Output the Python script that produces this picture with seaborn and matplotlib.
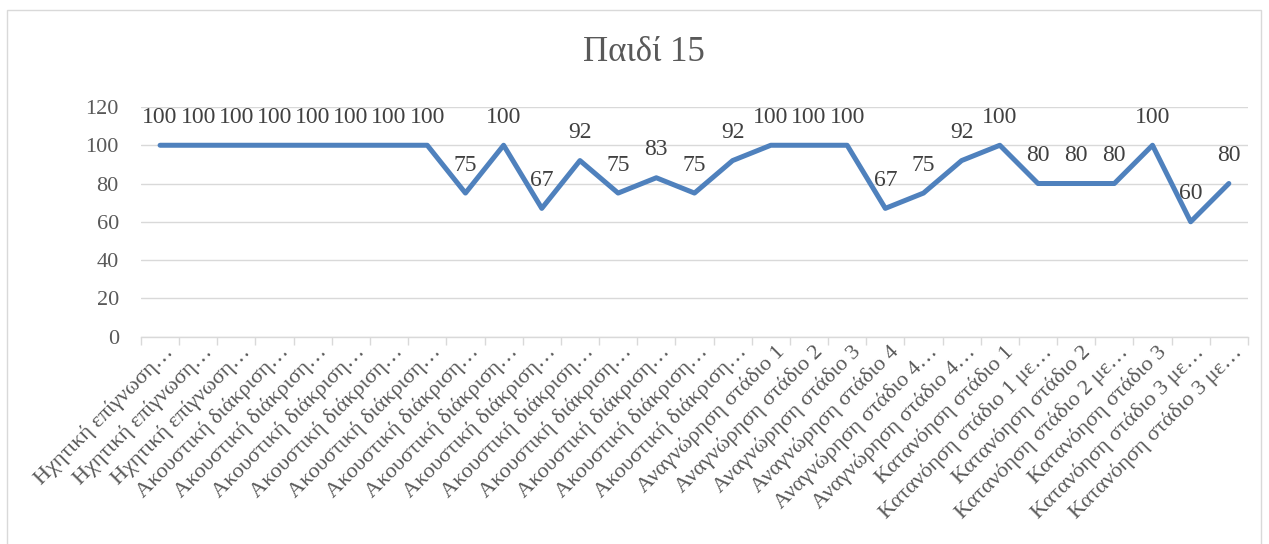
import numpy as np
import pandas as pd
import matplotlib
matplotlib.use("Agg")
import matplotlib.pyplot as plt
import matplotlib.transforms as mtransforms
from matplotlib.patches import Rectangle
import seaborn as sns

# category labels as Excel shows them (truncated)
categories = (
    ["Ηχητική επίγνωση…"] * 3
    + ["Ακουστική διάκριση…"] * 13
    + ["Αναγνώρηση στάδιο 1", "Αναγνώρηση στάδιο 2", "Αναγνώρηση στάδιο 3",
       "Αναγνώρηση στάδιο 4", "Αναγνώρηση στάδιο 4…", "Αναγνώρηση στάδιο 4…"]
    + ["Κατανόηση στάδιο 1", "Κατανόηση στάδιο 1 με…", "Κατανόηση στάδιο 2",
       "Κατανόηση στάδιο 2 με…", "Κατανόηση στάδιο 3", "Κατανόηση στάδιο 3 με…",
       "Κατανόηση στάδιο 3 με…"]
)
scores = [100, 100, 100, 100, 100, 100, 100, 100, 75, 100, 67, 92, 75, 83, 75,
          92, 100, 100, 100, 67, 75, 92, 100, 80, 80, 80, 100, 60, 80]
title = "Παιδί 15"

sns.set_theme(style="white")
plt.rcParams["font.family"] = ["Liberation Serif", "DejaVu Serif"]

df = pd.DataFrame({"pos": np.arange(len(scores)), "score": scores})

fig = plt.figure(figsize=(12.69, 5.44), dpi=100)
ax = fig.add_axes([0.1111, 0.3814, 0.8723, 0.4219])

sns.lineplot(data=df, x="pos", y="score", color="#4F81BD", lw=3.6,
             solid_capstyle="round", solid_joinstyle="round", ax=ax)

ax.set_xlim(-0.5, len(scores) - 0.5)
ax.set_ylim(0, 120)
ax.set_yticks(range(0, 121, 20))
ax.grid(axis="y", color="#D9D9D9", lw=1)
ax.set_axisbelow(True)
for side in ["top", "right", "left"]:
    ax.spines[side].set_visible(False)
ax.spines["bottom"].set_color("#D9D9D9")
ax.spines["bottom"].set_linewidth(1)

ax.set_xticks(df["pos"])
ax.set_xticklabels(categories, rotation=45, ha="right", va="center",
                   rotation_mode="anchor")
ax.set_xticks(np.arange(-0.5, len(scores), 1), minor=True)
ax.tick_params(axis="x", which="major", length=0, pad=9, labelsize=16,
               labelcolor="#595959")
ax.tick_params(axis="x", which="minor", length=6, width=1, color="#D9D9D9",
               direction="out", bottom=True)
ax.tick_params(axis="y", length=0, pad=16, labelsize=16, labelcolor="#595959")
ax.set_xlabel("")
ax.set_ylabel("")

offset = mtransforms.ScaledTranslation(11 / 100, 0, fig.dpi_scale_trans)
for lab in ax.get_xticklabels():
    lab.set_transform(lab.get_transform() + offset)

for i, v in zip(df["pos"], df["score"]):
    ax.annotate(f"{v}", (i, v), xytext=(0, 20), textcoords="offset points",
                ha="center", va="center", fontsize=17, color="#404040")

fig.text(0.507, 0.904, title, ha="center", va="center", fontsize=25,
         color="#595959")

fig.patches.append(Rectangle((7 / 1269, -0.01), 1254 / 1269, 1.01 - 10 / 544,
                             transform=fig.transFigure, fill=False,
                             edgecolor="#D9D9D9", lw=1))

fig.savefig("out.png", dpi=100)
